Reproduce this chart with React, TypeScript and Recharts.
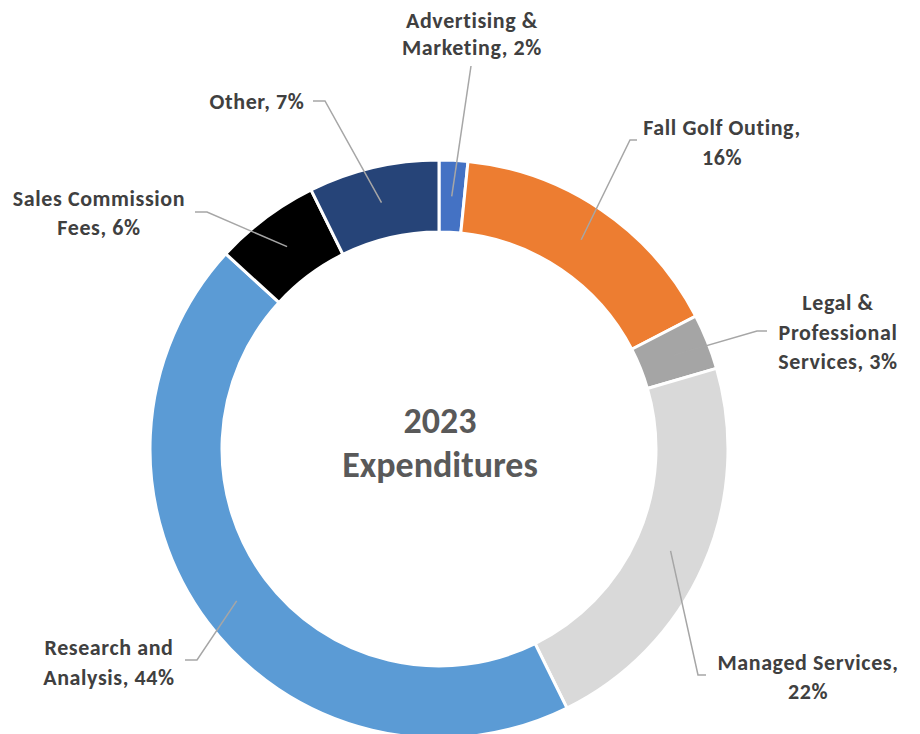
import React from 'react';
import { PieChart, Pie, Cell } from 'recharts';

const categories = [
  'Advertising & Marketing',
  'Fall Golf Outing',
  'Legal & Professional Services',
  'Managed Services',
  'Research and Analysis',
  'Sales Commission Fees',
  'Other',
];
// shares; labels show the rounded values
const shares = [1.6, 15.8, 3.1, 22.2, 44.1, 5.9, 7.3];
const labelLines = [
  ['Advertising &', 'Marketing, 2%'],
  ['Fall Golf Outing,', '16%'],
  ['Legal &', 'Professional', 'Services, 3%'],
  ['Managed Services,', '22%'],
  ['Research and', 'Analysis, 44%'],
  ['Sales Commission', 'Fees, 6%'],
  ['Other, 7%'],
];

const COLORS = ['#4472C4', '#ED7D31', '#A5A5A5', '#D9D9D9', '#5B9BD5', '#000000', '#264478'];

// leader elbow / end and text centre, as offsets from the pie centre
const LAYOUT = [
  { ex: 32, ey: -383, hx: 32, tx: 33, ty: -429, lh: 27 },
  { ex: 191, ey: -309, hx: 198, tx: 283, ty: -322, lh: 30 },
  { ex: 318, ey: -118, hx: 328, tx: 399, ty: -147, lh: 29.5 },
  { ex: 259, ey: 226, hx: 267, tx: 369, ty: 213, lh: 29 },
  { ex: -242, ey: 211, hx: -254, tx: -330, ty: 198, lh: 30 },
  { ex: -232, ey: -237, hx: -244, tx: -340, ty: -251, lh: 29 },
  { ex: -114, ey: -348, hx: -126, tx: -182, ty: -348, lh: 29 },
];

const FONT = "Carlito, Calibri, Lato, 'Open Sans', sans-serif";

const data = categories.map((name, i) => ({ name, value: shares[i] }));

const RAD = Math.PI / 180;

const renderLabel = (props: any) => {
  const { cx, cy, midAngle, innerRadius, outerRadius, index } = props;
  const r = (innerRadius + outerRadius) / 2;
  const sx = cx + r * Math.cos(-midAngle * RAD);
  const sy = cy + r * Math.sin(-midAngle * RAD);
  const l = LAYOUT[index];
  const lines = labelLines[index];
  return (
    <g key={`lbl-${index}`}>
      <polyline
        points={`${sx},${sy} ${cx + l.ex},${cy + l.ey} ${cx + l.hx},${cy + l.ey}`}
        fill="none"
        stroke="#A6A6A6"
        strokeWidth={1.5}
      />
      <text
        x={cx + l.tx}
        y={cy + l.ty}
        textAnchor="middle"
        dominantBaseline="central"
        fill="#404040"
        fontFamily={FONT}
        fontWeight="bold"
        fontSize={22}
        letterSpacing={0.6}
      >
        {lines.map((t, k) => (
          <tspan key={k} x={cx + l.tx} dy={k === 0 ? 0 : l.lh}>
            {t}
          </tspan>
        ))}
      </text>
    </g>
  );
};

export default function App() {
  return (
    <div style={{ position: 'absolute', left: 0, top: 0, background: '#fff' }}>
      <PieChart width={920} height={734} margin={{ top: 0, right: 0, bottom: 0, left: 0 }}>
        <Pie
          data={data}
          dataKey="value"
          nameKey="name"
          cx={439}
          cy={449}
          innerRadius={217}
          outerRadius={289}
          startAngle={90}
          endAngle={-270}
          stroke="#ffffff"
          strokeWidth={3}
          label={renderLabel}
          labelLine={false}
          isAnimationActive={false}
        >
          {data.map((d, i) => (
            <Cell key={d.name} fill={COLORS[i]} />
          ))}
        </Pie>
        <text
          x={440}
          y={421}
          textAnchor="middle"
          dominantBaseline="central"
          fill="#595959"
          fontFamily={FONT}
          fontWeight="bold"
          fontSize={36}
        >
          2023
        </text>
        <text
          x={440}
          y={465}
          textAnchor="middle"
          dominantBaseline="central"
          fill="#595959"
          fontFamily={FONT}
          fontWeight="bold"
          fontSize={36}
        >
          Expenditures
        </text>
      </PieChart>
    </div>
  );
}
